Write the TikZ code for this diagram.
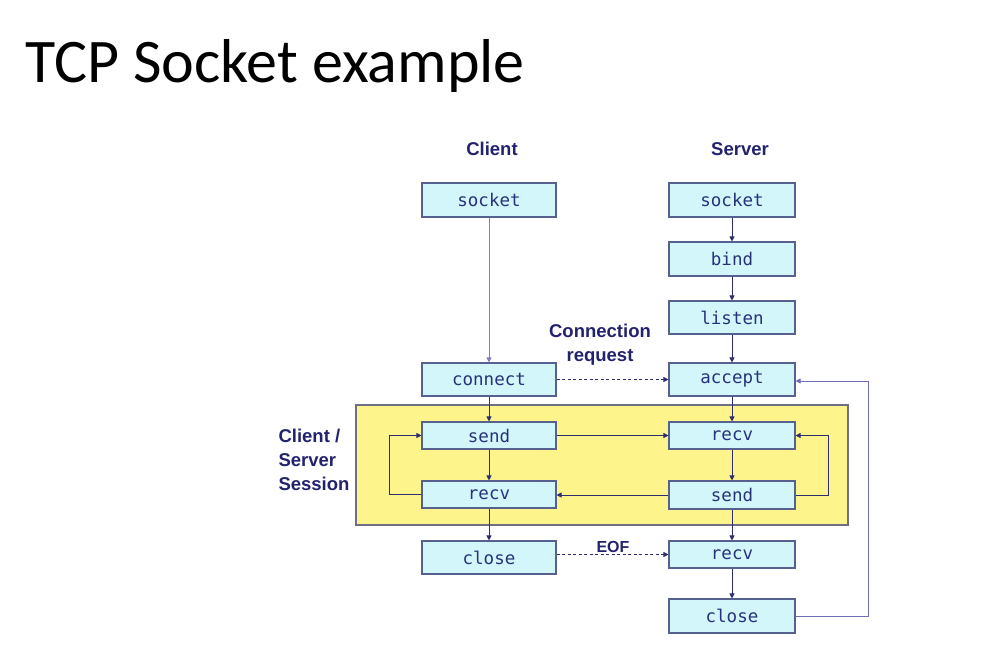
\documentclass[tikz,border=0pt]{standalone}
\usepackage{fontspec}
\setmainfont{Liberation Sans}
\newfontfamily\titlefont{Carlito}
\newfontfamily\monofont{DejaVu Sans Mono}
\usetikzlibrary{arrows.meta}
\definecolor{boxfill}{HTML}{D3F6FB}
\definecolor{boxline}{HTML}{56618F}
\definecolor{navy}{HTML}{22226E}
\definecolor{boxtext}{HTML}{28327A}
\definecolor{wire}{HTML}{2E2E6E}
\definecolor{lightwire}{HTML}{7E7EC0}
\definecolor{sessfill}{HTML}{FEF48C}
\definecolor{sessline}{HTML}{6E6E84}
\tikzset{
  opbox/.style={draw=boxline, fill=boxfill, line width=1.1pt, inner sep=0pt,
    text=boxtext, font=\monofont\fontsize{17.5}{17.5}\selectfont},
  cbox/.style={opbox, minimum width=134pt},
  sbox/.style={opbox, minimum width=126pt},
  flow/.style={draw=wire, line width=0.9pt, -{Triangle[length=5pt,width=5pt]}},
  dflow/.style={flow, dashed, dash pattern=on 3pt off 2.5pt},
  lbl/.style={text=navy, font=\bfseries\fontsize{18.5}{24}\selectfont},
}
\begin{document}
\begin{tikzpicture}[x=1pt,y=-1pt]
\useasboundingbox (0,0) rectangle (1006,665);
\fill[white] (0,0) rectangle (1006,665);
% title
\node[anchor=base west, inner sep=0pt, font=\titlefont\fontsize{62}{62}\selectfont] (title) at (25,82) {TCP Socket example};
% session area
\draw[sessline, fill=sessfill, line width=1.1pt] (356,405) rectangle (848,525);
% column headers
\node[lbl] (hclient) at (492,149) {Client};
\node[lbl] (hserver) at (740,149) {Server};
% client boxes
\node[cbox, minimum height=34pt] (csock) at (489,200) {socket};
\node[cbox, minimum height=33pt] (cconn) at (489,379.5) {connect};
\node[cbox, minimum height=27pt] (csend) at (489,435.5) {send};
\node[cbox, minimum height=27pt] (crecv) at (489,494.5) {recv};
\node[cbox, minimum height=33pt] (cclose) at (489,557.5) {close};
% server boxes
\node[sbox, minimum height=34pt] (ssock) at (732,200) {socket};
\node[sbox, minimum height=34pt] (sbind) at (732,259) {bind};
\node[sbox, minimum height=33pt] (slisten) at (732,317.5) {listen};
\node[sbox, minimum height=33pt] (saccept) at (732,379.5) {accept};
\node[sbox, minimum height=27pt] (srecv) at (732,435.5) {recv};
\node[sbox, minimum height=28pt] (ssend) at (732,495) {send};
\node[sbox, minimum height=27pt] (srecvb) at (732,554.5) {recv};
\node[sbox, minimum height=34pt] (sclose) at (732,616) {close};
% labels
\node[lbl, align=center] (connreq) at (600,345) {Connection\\request};
\node[lbl, align=left, anchor=west] (session) at (275,460) {Client /\\Server\\Session};
\node[text=navy, font=\bfseries\fontsize{16}{16}\selectfont] (eof) at (613,547) {EOF};
% coordinates for loops
\coordinate (cl) at (389,0);
\coordinate (sr) at (828,0);
\coordinate (outer) at (868,0);
% client flow
\draw[flow, draw=lightwire] (csock) -- (cconn);
\draw[flow] (cconn) -- (csend);
\draw[flow] (csend) -- (crecv);
\draw[flow] (crecv) -- (cclose);
\draw[flow] (crecv.west) -- (crecv.west -| cl) -- (csend.west -| cl) -- (csend.west);
% server flow
\draw[flow] (ssock) -- (sbind);
\draw[flow] (sbind) -- (slisten);
\draw[flow] (slisten) -- (saccept);
\draw[flow] (saccept) -- (srecv);
\draw[flow] (srecv) -- (ssend);
\draw[flow] (ssend) -- (srecvb);
\draw[flow] (srecvb) -- (sclose);
\draw[flow] (ssend.east) -- (ssend.east -| sr) -- (srecv.east -| sr) -- (srecv.east);
\draw[flow, draw=lightwire!80!wire] (sclose.east) -- (sclose.east -| outer) -- ([yshift=-1.5pt]saccept.east -| outer) -- ([yshift=-1.5pt]saccept.east);
% cross flow
\draw[flow] (csend) -- (srecv);
\draw[flow] (ssend.west) -- (ssend.west -| crecv.east);
\draw[dflow] (cconn) -- (saccept);
\draw[dflow] (cclose.east |- srecvb) -- (srecvb);
\end{tikzpicture}
\end{document}
